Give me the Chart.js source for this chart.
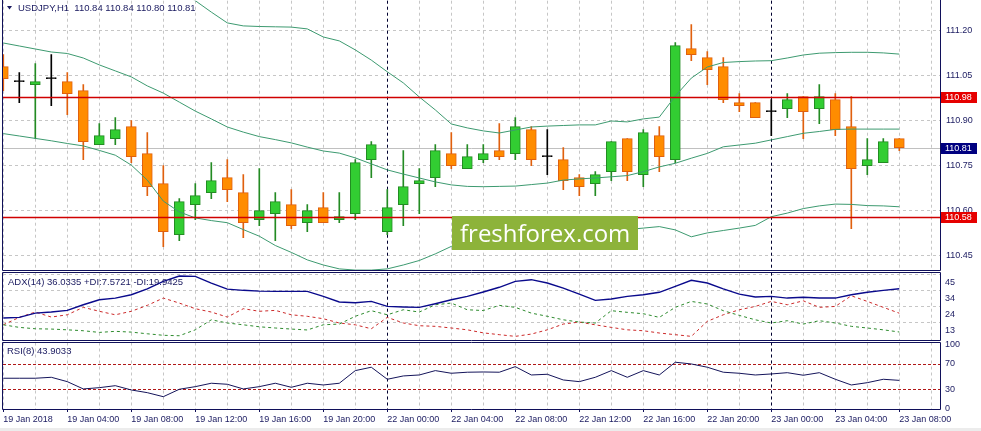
<!DOCTYPE html>
<html><head><meta charset="utf-8">
<script src="https://cdn.jsdelivr.net/npm/chart.js@4.4.1/dist/chart.umd.min.js"></script>
<style>
html,body{margin:0;padding:0;background:#fff;}
#wrap{position:relative;width:981px;height:431px;overflow:hidden;background:#fff;}
.c{position:absolute;left:0;}
#strip{position:absolute;left:0;top:428px;width:981px;height:3px;background:#ececec;}
</style></head><body>
<div id="wrap">
<div id="strip"></div>
<canvas id="main" class="c" style="top:0" width="981" height="272"></canvas>
<canvas id="adx" class="c" style="top:271px" width="981" height="71"></canvas>
<canvas id="rsi" class="c" style="top:341px" width="981" height="90"></canvas>
</div>
<script>
// ---------- data ----------
const symbolName = 'USDJPY,H1';
const xLabels = ['19 Jan 2018','19 Jan 04:00','19 Jan 08:00','19 Jan 12:00','19 Jan 16:00','19 Jan 20:00',
  '22 Jan 00:00','22 Jan 04:00','22 Jan 08:00','22 Jan 12:00','22 Jan 16:00','22 Jan 20:00',
  '23 Jan 00:00','23 Jan 04:00','23 Jan 08:00'];
const labelStep = 4;
const separators = [24, 48];
const priceTicks = [110.45, 110.60, 110.75, 110.90, 111.05, 111.20];
const hLevels = [110.98, 110.58];
const adxTicks = [45.3, 34.7, 24.1, 13.5];
const rsiTicks = [100, 70, 30, 0];
const rsiLevels = [70, 30];
const adxTitle = 'ADX(14) 36.0335 +DI:7.5721 -DI:19.9425';
const rsiTitle = 'RSI(8) 43.9033';

const opens  = [111.08,111.03,111.02,111.04,111.03,111.00,110.82,110.84,110.88,110.79,110.69,110.52,110.62,110.66,110.71,110.66,110.57,110.59,110.62,110.56,
                110.61,110.57,110.59,110.77,110.53,110.62,110.69,110.71,110.79,110.74,110.77,110.80,110.79,110.87,110.78,110.77,110.71,110.69,110.73,110.84,
                110.72,110.85,110.77,111.14,111.11,111.08,110.96,110.96,110.93,110.94,110.98,110.94,110.97,110.88,110.75,110.76,110.84];
const highs  = [111.12,111.06,111.09,111.12,111.06,111.02,110.89,110.91,110.90,110.86,110.75,110.64,110.69,110.76,110.77,110.72,110.74,110.66,110.67,110.62,
                110.66,110.66,110.77,110.83,110.67,110.80,110.74,110.82,110.86,110.82,110.82,110.89,110.91,110.88,110.87,110.81,110.72,110.73,110.83,110.84,
                110.87,110.88,111.16,111.22,111.13,111.11,110.99,110.96,110.97,110.99,110.98,111.02,110.99,110.98,110.84,110.84,110.84];
const lows   = [111.00,110.96,110.84,110.95,110.92,110.77,110.82,110.82,110.76,110.65,110.48,110.50,110.57,110.64,110.63,110.51,110.55,110.50,110.54,110.53,
                110.56,110.56,110.57,110.71,110.52,110.55,110.59,110.68,110.74,110.74,110.76,110.77,110.77,110.75,110.72,110.67,110.65,110.65,110.70,110.70,
                110.68,110.73,110.76,111.10,111.02,110.96,110.93,110.91,110.85,110.91,110.84,110.89,110.85,110.54,110.72,110.76,110.80];
const closes = [111.04,111.03,111.03,111.04,110.99,110.83,110.85,110.87,110.78,110.68,110.53,110.63,110.65,110.70,110.67,110.56,110.60,110.63,110.55,110.60,
                110.56,110.58,110.76,110.82,110.61,110.68,110.70,110.80,110.75,110.78,110.79,110.78,110.88,110.77,110.78,110.70,110.68,110.72,110.83,110.73,
                110.86,110.78,111.15,111.12,111.07,110.97,110.95,110.91,110.93,110.97,110.93,110.98,110.87,110.74,110.77,110.83,110.81];

const bbUpper = [111.46,111.45,111.44,111.43,111.42,111.40,111.37,111.35,111.34,111.33,111.35,111.33,111.30,111.262,111.226,111.216,111.214,111.213,111.212,111.206,
                 111.179,111.166,111.136,111.102,111.063,111.026,110.979,110.936,110.889,110.876,110.866,110.859,110.869,110.879,110.882,110.884,110.886,110.886,110.899,110.896,
                 110.906,110.912,110.982,111.042,111.079,111.094,111.097,111.099,111.100,111.109,111.119,111.125,111.127,111.128,111.128,111.126,111.122];
const bbMiddle = [111.159,111.149,111.139,111.129,111.124,111.109,111.086,111.066,111.046,111.016,110.992,110.962,110.932,110.906,110.879,110.862,110.847,110.837,110.826,110.812,
                  110.799,110.792,110.776,110.756,110.736,110.722,110.709,110.696,110.686,110.681,110.680,110.681,110.682,110.687,110.692,110.702,110.706,110.709,110.713,110.717,
                  110.730,110.746,110.758,110.775,110.791,110.813,110.819,110.825,110.836,110.847,110.858,110.864,110.871,110.872,110.872,110.872,110.872];
const bbLower = [110.857,110.849,110.841,110.833,110.824,110.816,110.801,110.785,110.752,110.702,110.632,110.596,110.576,110.567,110.560,110.537,110.515,110.484,110.461,110.436,
                 110.419,110.406,110.402,110.402,110.406,110.419,110.434,110.456,110.481,110.492,110.502,110.511,110.516,110.521,110.522,110.526,110.529,110.532,110.534,110.537,
                 110.542,110.547,110.536,110.513,110.526,110.534,110.542,110.551,110.580,110.592,110.607,110.616,110.622,110.621,110.617,110.616,110.613];

const adxMain = [16.8,17.2,20.0,20.7,21.8,25.5,28.8,29.9,32.1,36.0,40.9,44.4,44.2,39.8,35.8,35.0,34.5,34.3,34.3,34.3,
                 31.0,27.3,26.8,27.7,24.4,24.0,23.8,26.2,28.8,31.0,33.9,37.0,40.9,42.0,39.8,36.5,32.5,28.4,29.3,31.0,
                 32.1,33.7,37.6,41.6,39.8,36.0,32.5,30.6,31.0,29.9,30.4,29.9,29.9,32.1,33.7,35.0,36.03];
const plusDI  = [12.3,10.6,9.7,9.5,9.0,8.4,7.3,8.0,7.5,6.4,5.4,5.1,9.0,15.6,13.5,12.3,11.0,10.2,9.5,8.9,
                 12.3,12.8,17.9,21.6,18.9,22.2,20.7,25.5,26.6,22.2,21.7,25.1,23.8,20.0,17.9,15.6,14.1,13.5,21.6,20.5,
                 19.6,17.2,23.8,27.7,26.0,21.6,18.5,15.6,13.5,15.0,12.8,15.0,13.5,11.3,10.2,9.0,7.57];
const minusDI = [12.3,17.2,20.7,17.4,18.9,23.8,21.2,18.9,21.2,25.1,29.9,26.6,22.9,20.7,17.4,22.9,21.2,21.8,18.9,17.9,
                 16.3,13.5,12.3,9.7,17.2,13.5,11.7,11.3,10.2,9.0,7.0,5.8,4.7,6.2,9.0,12.8,14.1,12.3,10.6,9.0,
                 8.4,6.9,5.8,4.7,14.6,18.9,22.2,24.4,27.7,25.5,28.1,23.8,24.4,31.4,27.7,23.8,19.94];
const rsiValues = [47.2,47.2,47.2,48.7,41.9,30.5,32.5,35.6,28.9,24.7,18.4,30.0,34.1,39.4,37.8,30.5,34.1,39.4,33.1,39.4,
                   36.7,39.4,59.1,64.4,45.6,50.8,52.3,59.1,55.0,56.6,57.0,56.6,65.3,52.3,53.4,44.5,41.9,48.7,59.1,48.7,
                   59.1,52.3,72.2,69.5,64.4,56.6,55.0,52.3,53.9,55.9,51.9,55.9,45.6,36.7,40.3,45.6,43.9];

// ---------- style ----------
const FONT = '"Liberation Sans", Arial, sans-serif';
const TXT = '#1a1a60';
const FRAME = '#10105a';
const GRID = '#c6c6c6';
const UP_FILL = '#32cd32', UP_LINE = '#238b23';
const DN_FILL = '#ff8c00', DN_LINE = '#e0600e';
const DOJI = '#000000';
const BB = '#3d9a70';
const X_MIN = -0.01875, X_MAX = 58.54375;
const gridIdx = []; for (let k = 0; k <= 58; k += 2) gridIdx.push(k);

const dir = opens.map((o, i) => closes[i] > o ? 1 : (closes[i] < o ? -1 : 0));
const bodyFill = dir.map(d => d > 0 ? UP_FILL : d < 0 ? DN_FILL : DOJI);
const bodyLine = dir.map(d => d > 0 ? UP_LINE : d < 0 ? DN_LINE : DOJI);
const pts = arr => arr.map((v, i) => ({x: i, y: v}));

function xScale(showLabels) {
  return {
    type: 'linear', min: X_MIN, max: X_MAX, offset: false,
    afterBuildTicks: s => { s.ticks = gridIdx.map(v => ({value: v})); },
    afterFit: s => { s.height = showLabels ? 22 : 0; s.paddingLeft = 0; s.paddingRight = 0; },
    grid: { color: GRID, lineWidth: 1, offset: false, drawTicks: showLabels, tickLength: 3,
            tickColor: c => (c.tick && c.tick.value % labelStep === 0) ? FRAME : 'rgba(0,0,0,0)' },
    border: { display: false, dash: [3, 3] },
    ticks: { display: showLabels, autoSkip: false, maxRotation: 0, minRotation: 0, align: 'start', padding: 2,
             color: TXT, font: {family: FONT, size: 9},
             callback: v => (v % labelStep === 0 && xLabels[v / labelStep]) ? xLabels[v / labelStep] : '' }
  };
}
function yScale(min, max, ticks, fmt, opts) {
  return Object.assign({
    position: 'right', min, max, beginAtZero: false,
    afterBuildTicks: s => { s.ticks = ticks.map(v => ({value: v})); },
    afterFit: s => { s.width = 41; s.paddingTop = 0; s.paddingBottom = 0; },
    grid: { color: GRID, drawTicks: false },
    border: { display: false, dash: [3, 3] },
    ticks: { padding: 5, color: TXT, font: {family: FONT, size: 9}, callback: fmt }
  }, opts || {});
}
function drawSeparators(chart) {
  const {ctx, chartArea: a, scales: {x}} = chart;
  ctx.save(); ctx.strokeStyle = '#000030'; ctx.lineWidth = 1; ctx.setLineDash([3, 3]);
  separators.forEach(k => {
    const px = Math.round(x.getPixelForValue(k)) + 0.5;
    ctx.beginPath(); ctx.moveTo(px, a.top); ctx.lineTo(px, a.bottom); ctx.stroke();
  });
  ctx.restore();
}
function drawFrame(chart, withTop) {
  const {ctx, chartArea: a} = chart;
  const l = Math.round(a.left) - 0.5, r = Math.round(a.right) + 0.5, t = Math.round(a.top) - 0.5, b = Math.round(a.bottom) + 0.5;
  ctx.save(); ctx.strokeStyle = FRAME; ctx.lineWidth = 1; ctx.beginPath();
  ctx.moveTo(l, withTop ? t : 0); ctx.lineTo(l, b); ctx.lineTo(r, b); ctx.lineTo(r, withTop ? t : 0);
  if (withTop) { ctx.lineTo(l, t); }
  ctx.stroke(); ctx.restore();
}
function drawTitle(chart, text, x, y) {
  const ctx = chart.ctx; ctx.save();
  ctx.fillStyle = TXT; ctx.font = '9.5px ' + FONT; ctx.textBaseline = 'middle'; ctx.textAlign = 'left';
  ctx.fillText(text, x, y); ctx.restore();
}

// ---------- main chart ----------
const mainPlugin = {
  id: 'mainDeco',
  beforeDatasetsDraw(chart) {
    const {ctx, chartArea: a, scales: {y}} = chart;
    const last = closes[closes.length - 1];
    ctx.save(); ctx.strokeStyle = '#c0c0c0'; ctx.lineWidth = 1;
    const py = Math.round(y.getPixelForValue(last)) + 0.5;
    ctx.beginPath(); ctx.moveTo(a.left, py); ctx.lineTo(a.right, py); ctx.stroke(); ctx.restore();
    drawSeparators(chart);
  },
  afterDatasetsDraw(chart) {
    const {ctx, chartArea: a, scales: {y}} = chart;
    ctx.save(); ctx.setLineDash([]); ctx.strokeStyle = '#d00000'; ctx.lineWidth = 1.3;
    hLevels.forEach(v => {
      const py = Math.round(y.getPixelForValue(v)) + 0.5;
      ctx.beginPath(); ctx.moveTo(a.left, py); ctx.lineTo(a.right, py); ctx.stroke();
    });
    // watermark
    ctx.fillStyle = '#8db33a'; ctx.fillRect(452, 216, 186, 34);
    ctx.fillStyle = '#ffffff'; ctx.font = '24px "Open Sans", ' + FONT; ctx.textBaseline = 'alphabetic';
    ctx.fillText('freshforex.com', 460, 242);
    ctx.restore();
  },
  afterDraw(chart) {
    const {ctx, chartArea: a, scales: {y}} = chart;
    drawFrame(chart, false);
    const box = (v, bg) => {
      const py = y.getPixelForValue(v);
      ctx.fillStyle = bg; ctx.fillRect(Math.round(a.right) + 1, Math.round(py) - 5, 36, 11);
      ctx.fillStyle = '#ffffff'; ctx.font = '9px ' + FONT; ctx.textBaseline = 'middle'; ctx.textAlign = 'left';
      ctx.fillText(v.toFixed(2), Math.round(a.right) + 5, Math.round(py) + 0.5);
    };
    ctx.save();
    hLevels.forEach(v => box(v, '#e60000'));
    box(closes[closes.length - 1], '#000080');
    // header
    ctx.fillStyle = TXT; ctx.beginPath(); ctx.moveTo(7, 6); ctx.lineTo(12, 6); ctx.lineTo(9.5, 9.5); ctx.closePath(); ctx.fill();
    ctx.restore();
    const n = closes.length - 1;
    drawTitle(chart, symbolName + '  ' + [opens[n], highs[n], lows[n], closes[n]].map(v => v.toFixed(2)).join(' '), 18, 8);
  }
};

new Chart(document.getElementById('main'), {
  type: 'bar',
  data: {
    datasets: [
      { type: 'line', data: pts(bbUpper), borderColor: BB, borderWidth: 1, pointRadius: 0, tension: 0, order: 0 },
      { type: 'line', data: pts(bbMiddle), borderColor: BB, borderWidth: 1, pointRadius: 0, tension: 0, order: 0 },
      { type: 'line', data: pts(bbLower), borderColor: BB, borderWidth: 1, pointRadius: 0, tension: 0, order: 0 },
      { data: opens.map((o, i) => ({x: i, y: [o, closes[i]]})), backgroundColor: bodyFill, borderColor: bodyLine,
        borderWidth: 1, borderSkipped: false, barThickness: 10, minBarLength: 1, grouped: false, order: 1 },
      { data: lows.map((l, i) => ({x: i, y: [l, highs[i]]})), backgroundColor: bodyLine,
        borderWidth: 0, barThickness: 1, grouped: false, order: 2 }
    ]
  },
  options: {
    responsive: false, animation: false, events: [],
    layout: { padding: {left: 3, top: 0.7, right: 0, bottom: 2} },
    plugins: { legend: {display: false}, tooltip: {enabled: false} },
    scales: {
      x: xScale(false),
      y: yScale(110.4023, 111.30, priceTicks, v => Number(v).toFixed(2), {ticks: {padding: 6, color: TXT, font: {family: FONT, size: 9}, callback: v => Number(v).toFixed(2)}})
    }
  },
  plugins: [mainPlugin]
});

// ---------- ADX ----------
new Chart(document.getElementById('adx'), {
  type: 'line',
  data: {
    datasets: [
      { data: pts(adxMain), borderColor: '#0a0a8c', borderWidth: 1.4, pointRadius: 0, tension: 0 },
      { data: pts(plusDI), borderColor: '#2e8b2e', borderWidth: 1, borderDash: [3, 3], pointRadius: 0, tension: 0 },
      { data: pts(minusDI), borderColor: '#cc2a2a', borderWidth: 1, borderDash: [3, 3], pointRadius: 0, tension: 0 }
    ]
  },
  options: {
    responsive: false, animation: false, events: [],
    layout: { padding: {left: 3, top: 1.7, right: 0, bottom: 2.3} },
    plugins: { legend: {display: false}, tooltip: {enabled: false} },
    scales: {
      x: xScale(false),
      y: yScale(2.5, 46.6, adxTicks, v => String(Math.trunc(v)),
        {ticks: {padding: 5, labelOffset: 8, color: TXT, font: {family: FONT, size: 9}, callback: v => String(Math.trunc(v))}})
    }
  },
  plugins: [{
    id: 'adxDeco',
    beforeDatasetsDraw(chart) { drawSeparators(chart); },
    afterDraw(chart) { drawFrame(chart, true); drawTitle(chart, adxTitle, 8, 11); }
  }]
});

// ---------- RSI ----------
new Chart(document.getElementById('rsi'), {
  type: 'line',
  data: { datasets: [ { data: pts(rsiValues), borderColor: '#14145a', borderWidth: 1, pointRadius: 0, tension: 0 } ] },
  options: {
    responsive: false, animation: false, events: [],
    layout: { padding: {left: 3, top: 1.5, right: 0, bottom: 0} },
    plugins: { legend: {display: false}, tooltip: {enabled: false} },
    scales: {
      x: xScale(true),
      y: yScale(-0.8, 103, rsiTicks, v => String(v), {grid: {display: false, drawTicks: false}})
    }
  },
  plugins: [{
    id: 'rsiDeco',
    beforeDatasetsDraw(chart) {
      const {ctx, chartArea: a, scales: {y}} = chart;
      ctx.save(); ctx.strokeStyle = '#b01818'; ctx.lineWidth = 1; ctx.setLineDash([3, 2]);
      rsiLevels.forEach(v => {
        const py = Math.round(y.getPixelForValue(v)) + 0.5;
        ctx.beginPath(); ctx.moveTo(a.left, py); ctx.lineTo(a.right, py); ctx.stroke();
      });
      ctx.restore();
      drawSeparators(chart);
    },
    afterDraw(chart) { drawFrame(chart, true); drawTitle(chart, rsiTitle, 7, 10.7); }
  }]
});
</script>
</body></html>
